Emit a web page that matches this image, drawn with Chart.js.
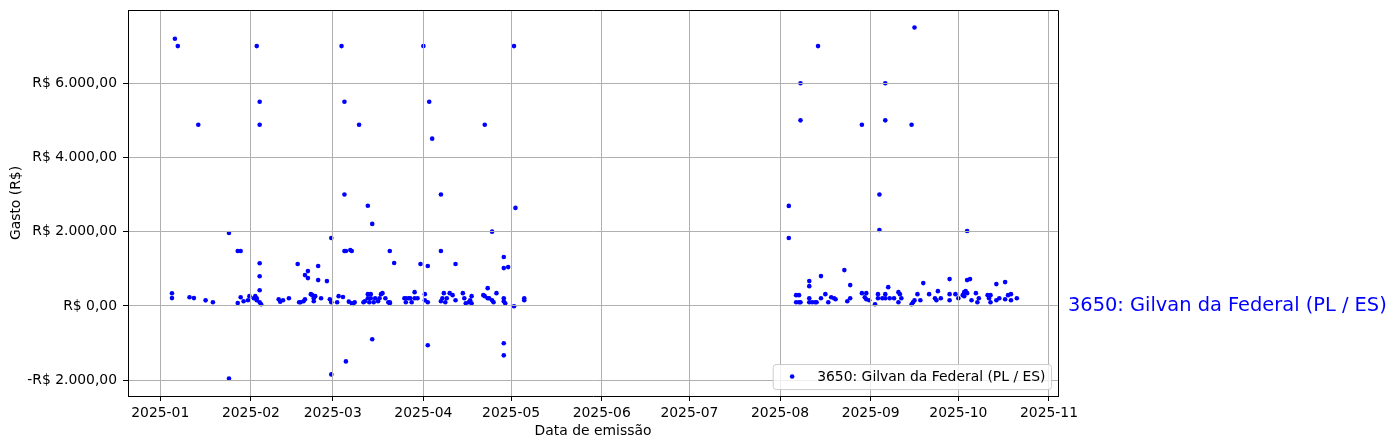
<!DOCTYPE html>
<html>
<head>
<meta charset="utf-8">
<title>Gastos - Gilvan da Federal</title>
<script src="https://cdn.jsdelivr.net/npm/chart.js@4.4.1/dist/chart.umd.min.js"></script>
<style>
  body { margin: 0; background: #fff; }
  canvas { display: block; }
</style>
</head>
<body>
<canvas id="chart" width="1396" height="448"></canvas>
<script>
const deputyLabel = '3650: Gilvan da Federal (PL / ES)'

// data de emissão (T12 = meio-dia) e valor gasto
const emissionDates = [
    '2025-01-05', '2025-01-05', '2025-01-06', '2025-01-07', '2025-01-11', '2025-01-12T12', '2025-01-14', '2025-01-16T12',
    '2025-01-19', '2025-01-24T12', '2025-01-24T12', '2025-01-27T12', '2025-01-28T12', '2025-01-27T12', '2025-01-28T12', '2025-01-29T12',
    '2025-01-31', '2025-01-31T12', '2025-02-02', '2025-02-02T12', '2025-02-03', '2025-02-03', '2025-02-03', '2025-02-04',
    '2025-02-04', '2025-02-04', '2025-02-04', '2025-02-04', '2025-02-04', '2025-02-04T12', '2025-02-10T12', '2025-02-11',
    '2025-02-12', '2025-02-14', '2025-02-17', '2025-02-17T12', '2025-02-18', '2025-02-19', '2025-02-19T12', '2025-02-19T12',
    '2025-02-20T12', '2025-02-20T12', '2025-02-21T12', '2025-02-22', '2025-02-22T12', '2025-02-22T12', '2025-02-23', '2025-02-24',
    '2025-02-24', '2025-02-25', '2025-02-27', '2025-02-28', '2025-02-28T12', '2025-02-28T12', '2025-02-28T12', '2025-03-02T12',
    '2025-03-03', '2025-03-04', '2025-03-04T12', '2025-03-05', '2025-03-05', '2025-03-05', '2025-03-05T12', '2025-03-05T12',
    '2025-03-06T12', '2025-03-07', '2025-03-07T12', '2025-03-07T12', '2025-03-08', '2025-03-08T12', '2025-03-10', '2025-03-11T12',
    '2025-03-12', '2025-03-13', '2025-03-13', '2025-03-13', '2025-03-13T12', '2025-03-14', '2025-03-14', '2025-03-14T12',
    '2025-03-14T12', '2025-03-15', '2025-03-15T12', '2025-03-16T12', '2025-03-17', '2025-03-17T12', '2025-03-18', '2025-03-19',
    '2025-03-20', '2025-03-20T12', '2025-03-20T12', '2025-03-20T12', '2025-03-22', '2025-03-25T12', '2025-03-26', '2025-03-26',
    '2025-03-27', '2025-03-27T12', '2025-03-28', '2025-03-29', '2025-03-29', '2025-03-30', '2025-03-31', '2025-04-01',
    '2025-04-01T12', '2025-04-01T12', '2025-04-02T12', '2025-04-02T12', '2025-04-02T12', '2025-04-03', '2025-04-04', '2025-04-07',
    '2025-04-07', '2025-04-07', '2025-04-07T12', '2025-04-08', '2025-04-08T12', '2025-04-09', '2025-04-10', '2025-04-11',
    '2025-04-12', '2025-04-12', '2025-04-14T12', '2025-04-15', '2025-04-15T12', '2025-04-16T12', '2025-04-17', '2025-04-17T12',
    '2025-04-17T12', '2025-04-21T12', '2025-04-22', '2025-04-22', '2025-04-23', '2025-04-23', '2025-04-23T12', '2025-04-24T12',
    '2025-04-24T12', '2025-04-25', '2025-04-26', '2025-04-28T12', '2025-04-28T12', '2025-04-29', '2025-04-28T12', '2025-04-28T12',
    '2025-04-28T12', '2025-04-28T12', '2025-04-30', '2025-05-02', '2025-05-02', '2025-05-02T12', '2025-05-05T12', '2025-05-05T12',
    '2025-08-04', '2025-08-04', '2025-08-06T12', '2025-08-07T12', '2025-08-06T12', '2025-08-07T12', '2025-08-08', '2025-08-08',
    '2025-08-08', '2025-08-11', '2025-08-11', '2025-08-11', '2025-08-11', '2025-08-12', '2025-08-13', '2025-08-13T12',
    '2025-08-14', '2025-08-15', '2025-08-15', '2025-08-16T12', '2025-08-17T12', '2025-08-18T12', '2025-08-19T12', '2025-08-20',
    '2025-08-23', '2025-08-24', '2025-08-25', '2025-08-25', '2025-08-29', '2025-08-29', '2025-08-30', '2025-08-30T12',
    '2025-08-30T12', '2025-08-31T12', '2025-09-02T12', '2025-09-03T12', '2025-09-03T12', '2025-09-04', '2025-09-04', '2025-09-05',
    '2025-09-06', '2025-09-06', '2025-09-06', '2025-09-06', '2025-09-07', '2025-09-07T12', '2025-09-09', '2025-09-10T12',
    '2025-09-11', '2025-09-11T12', '2025-09-10T12', '2025-09-15', '2025-09-15', '2025-09-15T12', '2025-09-16', '2025-09-16',
    '2025-09-17', '2025-09-18', '2025-09-19', '2025-09-21', '2025-09-23', '2025-09-23T12', '2025-09-24', '2025-09-25',
    '2025-09-28', '2025-09-28', '2025-09-28', '2025-09-30', '2025-10-01', '2025-10-02T12', '2025-10-03', '2025-10-03',
    '2025-10-03T12', '2025-10-04', '2025-10-04', '2025-10-04', '2025-10-05', '2025-10-05T12', '2025-10-07', '2025-10-07T12',
    '2025-10-08', '2025-10-11', '2025-10-11T12', '2025-10-12', '2025-10-12', '2025-10-14', '2025-10-14', '2025-10-15',
    '2025-10-17', '2025-10-17', '2025-10-18', '2025-10-19', '2025-10-19', '2025-10-21'
]

const amounts = [
    340, 210, 7200, 7000, 235, 210, 4880, 150,
    100, 1965, -1955, 1480, 1480, 75, 235, 127,
    154, 262, 208, 262, 208, 154, 7000, 100,
    5500, 4880, 1150, 800, 420, 46, 181, 110,
    154, 208, 1127, 100, 100, 127, 181, 830,
    938, 749, 316, 289, 208, 127, 262, 1073,
    695, 208, 668, 181, 100, 1830, -1846, 100,
    262, 7000, 240, 5500, 3000, 1480, 1480, -1495,
    115, 1505, 73, 1478, 50, 100, 4880, 100,
    127, 208, 316, 2700, 100, 316, 208, 2210,
    -900, 100, 208, 127, 208, 316, 343, 208,
    100, 73, 100, 1480, 1154, 208, 100, 208,
    208, 208, 100, 370, 208, 208, 1127, 7000,
    316, 154, 100, 1073, -1062, 5500, 4506, 3000,
    1478, 127, 208, 343, 100, 208, 343, 289,
    154, 1127, 343, 208, 73, 100, 154, 262,
    73, 289, 262, 4880, 478, 208, 208, 154,
    2000, 100, 343, 208, 127, 73, 1316, 1019,
    -1008, -1333, 1046, 7000, -8, 2641, 208, 154,
    2695, 1830, 289, 289, 100, 100, 100, 6000,
    5000, 668, 532, 208, 100, 100, 100, 100,
    7000, 803, 208, 316, 100, 235, 208, 181,
    965, 127, 560, 208, 343, 4880, 235, 343,
    181, 154, 46, 316, 208, 3000, 2046, 208,
    6000, 5000, 208, 316, 505, 208, 208, 370,
    316, 208, 100, 4880, 46, 100, 154, 7500,
    316, 154, 614, 316, 208, 154, 397, 208,
    722, 316, 154, 316, 208, 289, 370, 262,
    397, 343, 695, 2020, 722, 154, 343, 100,
    208, 289, 208, 289, 100, 587, 154, 208,
    641, 181, 289, 316, 154, 208
]

const monthTicks = ['2025-01', '2025-02', '2025-03', '2025-04', '2025-05', '2025-06',
    '2025-07', '2025-08', '2025-09', '2025-10', '2025-11']
const yTickValues = [-2000, 0, 2000, 4000, 6000]

function toTime(s) {
    const [day, hour] = s.split('T')
    const [y, m, d] = day.split('-').map(Number)
    return Date.UTC(y, m - 1, d, hour ? Number(hour) : 0)
}

function formatBRL(v) {
    const [int, dec] = Math.abs(v).toFixed(2).split('.')
    const grouped = int.replace(/\B(?=(\d{3})+(?!\d))/g, '.')
    return (v < 0 ? '-' : '') + 'R$ ' + grouped + ',' + dec
}

const points = emissionDates.map((d, i) => ({ x: toTime(d), y: amounts[i] }))
const yMin = Math.min(...amounts)
const yMax = Math.max(...amounts)
const yPad = (yMax - yMin) * 0.05

const FS = 13.9
Chart.defaults.font.family = '"DejaVu Sans"'
Chart.defaults.font.size = FS
Chart.defaults.color = '#000'

// frame top/right, legend box and side label
const extras = {
    id: 'extras',
    afterDraw(chart) {
        const { ctx, chartArea: a } = chart
        ctx.save()
        ctx.strokeStyle = '#000'
        ctx.lineWidth = 1
        ctx.beginPath()
        ctx.moveTo(a.left, Math.round(a.top) + 0.5)
        ctx.lineTo(Math.round(a.right) + 0.5, Math.round(a.top) + 0.5)
        ctx.lineTo(Math.round(a.right) + 0.5, a.bottom)
        ctx.stroke()

        ctx.font = FS + 'px "DejaVu Sans"'
        const textW = ctx.measureText(deputyLabel).width
        const boxW = FS * 3.6 + textW
        const boxH = FS * 1.8
        const boxR = a.right - FS * 0.5
        const boxB = a.bottom - FS * 0.5
        const boxL = boxR - boxW
        const boxT = boxB - boxH
        ctx.beginPath()
        if (ctx.roundRect) ctx.roundRect(boxL + 0.5, boxT + 0.5, boxW, boxH, 3)
        else ctx.rect(boxL + 0.5, boxT + 0.5, boxW, boxH)
        ctx.fillStyle = 'rgba(255,255,255,0.8)'
        ctx.fill()
        ctx.strokeStyle = '#cccccc'
        ctx.stroke()

        const cy = boxT + boxH / 2
        ctx.fillStyle = '#0000ff'
        ctx.beginPath()
        ctx.arc(boxL + FS * 1.4, cy, 2.3, 0, Math.PI * 2)
        ctx.fill()
        ctx.fillStyle = '#000'
        ctx.textBaseline = 'middle'
        ctx.fillText(deputyLabel, boxL + FS * 3.2, cy + 1)

        ctx.font = '19.4px "DejaVu Sans"'
        ctx.fillStyle = '#0000ff'
        ctx.fillText(deputyLabel, a.right + 10, chart.scales.y.getPixelForValue(0))
        ctx.restore()
    }
}

new Chart(document.getElementById('chart'), {
    type: 'scatter',
    data: {
        datasets: [
            {
                label: deputyLabel,
                data: points,
                backgroundColor: '#0000ff',
                borderWidth: 0,
                pointRadius: 2.3,
                pointHoverRadius: 2.3
            }
        ]
    },
    options: {
        responsive: false,
        animation: false,
        devicePixelRatio: 1,
        events: [],
        layout: {
            padding: { top: 10, right: 338, bottom: 0, left: 0 }
        },
        scales: {
            x: {
                type: 'linear',
                min: Date.UTC(2024, 11, 20, 23),
                max: Date.UTC(2025, 10, 4, 2),
                afterBuildTicks: scale => {
                    scale.ticks = monthTicks.map(m => ({ value: toTime(m + '-01') }))
                },
                afterFit: scale => { scale.height = 52 },
                ticks: {
                    autoSkip: false,
                    maxRotation: 0,
                    padding: 4,
                    callback: (value, index) => monthTicks[index]
                },
                grid: { color: '#b0b0b0', tickColor: '#000', tickLength: 5, z: 1 },
                border: { color: '#000', width: 1, z: 2 },
                title: { display: true, text: 'Data de emissão', padding: { top: 0, bottom: 8 } }
            },
            y: {
                min: yMin - yPad,
                max: yMax + yPad,
                afterBuildTicks: scale => {
                    scale.ticks = yTickValues.map(v => ({ value: v }))
                },
                afterFit: scale => {
                    scale.width = 128
                    scale.paddingTop = 0
                    scale.paddingBottom = 0
                },
                ticks: {
                    padding: 6,
                    callback: value => formatBRL(value)
                },
                grid: { color: '#b0b0b0', tickColor: '#000', tickLength: 5, z: 1 },
                border: { color: '#000', width: 1, z: 2 },
                title: { display: true, text: 'Gasto (R$)', padding: { top: 8, bottom: 0 } }
            }
        },
        plugins: {
            legend: { display: false },
            tooltip: { enabled: false }
        }
    },
    plugins: [extras]
})
</script>
</body>
</html>
